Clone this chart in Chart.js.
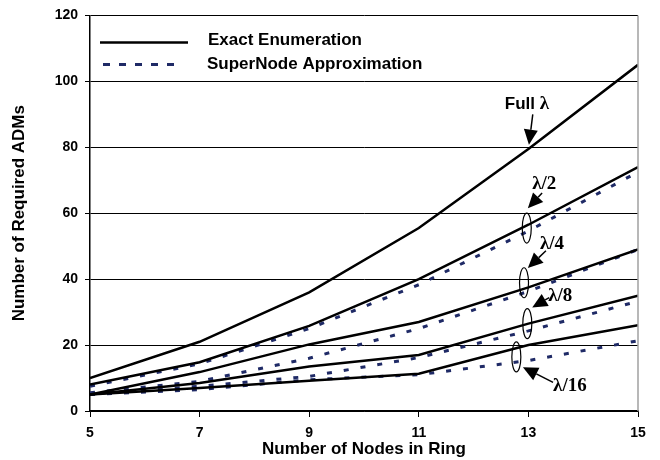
<!DOCTYPE html>
<html>
<head>
<meta charset="utf-8">
<script src="https://cdn.jsdelivr.net/npm/chart.js@4.4.0/dist/chart.umd.min.js"></script>
<style>
  html, body { margin: 0; padding: 0; background: #fff; }
  #wrap { width: 660px; height: 460px; }
</style>
</head>
<body>
<div id="wrap"><canvas id="chart" width="660" height="460"></canvas></div>
<script>
// Data
const nodes = [5, 7, 9, 11, 13, 15];

const exactFull      = [10, 21, 36, 55.5, 79.5, 105];
const exactHalf      = [8, 14.8, 25.8, 40, 56.5, 74];
const exactQuarter   = [5, 11.8, 20.2, 27, 37.5, 49];
const exactEighth    = [5, 8.5, 13.5, 17, 26.5, 35];
const exactSixteenth = [5, 7, 9.2, 11.3, 20, 26];

const approxHalf      = [7.5, 14.3, 25, 38.3, 54.6, 72.5];
const approxQuarter   = [5.5, 9, 16, 25, 36.3, 49];
const approxEighth    = [5, 7.5, 10.5, 16.2, 24.3, 33.3];
const approxSixteenth = [5, 6.5, 9.5, 11, 15.3, 21.3];

const legendLabels = ['Exact Enumeration', 'SuperNode Approximation'];
const yTicks = { min: 0, max: 120, step: 20 };
const xTicks = { min: 5, max: 15, step: 2 };

// annotation anchors in data units
const notes = [
  { label: 'λ/2',  text: [13.07, 68.8], from: [13.25, 66.1], tip: [12.99, 61.5], ring: [12.97, 55.5] },
  { label: 'λ/4',  text: [13.21, 50.7], from: [13.32, 48.6], tip: [12.99, 43.4], ring: [12.92, 38.9] },
  { label: 'λ/8',  text: [13.36, 35.0], from: [13.38, 34.4], tip: [13.07, 31.4], ring: [12.98, 26.5] },
  { label: 'λ/16', text: [13.45, 7.5],  from: [13.45, 8.7],  tip: [12.90, 13.3], ring: [12.78, 16.4] }
];
const fullNote = { text: [12.57, 93], from: [13.08, 90], tip: [13.01, 80.8] };

const SANS = '"Liberation Sans", Arial, sans-serif';
const SERIF = '"Liberation Serif", "Times New Roman", serif';
const DASH_COLOR = '#1f2a66';

function pts(arr) {
    return nodes.map((n, i) => ({ x: n, y: arr[i] }));
}

function solid(label, arr) {
    return { label: label, data: pts(arr), borderColor: '#000', borderWidth: 2.5, pointRadius: 0, tension: 0 };
}

function dashed(label, arr) {
    return { label: label, data: pts(arr), borderColor: DASH_COLOR, borderWidth: 3, borderDash: [5, 12], pointRadius: 0, tension: 0 };
}

// solid first so they end up on top
const datasets = [
    solid('Full', exactFull),
    solid('1/2', exactHalf),
    solid('1/4', exactQuarter),
    solid('1/8', exactEighth),
    solid('1/16', exactSixteenth),
    dashed('1/2 approx', approxHalf),
    dashed('1/4 approx', approxQuarter),
    dashed('1/8 approx', approxEighth),
    dashed('1/16 approx', approxSixteenth)
];

function arrow(ctx, x1, y1, x2, y2) {
    const ang = Math.atan2(y2 - y1, x2 - x1);
    const len = 15, half = 7;
    const bx = x2 - len * Math.cos(ang), by = y2 - len * Math.sin(ang);
    ctx.beginPath();
    ctx.moveTo(x1, y1);
    ctx.lineTo(bx, by);
    ctx.lineWidth = 1.5;
    ctx.stroke();
    ctx.beginPath();
    ctx.moveTo(x2, y2);
    ctx.lineTo(bx + half * Math.sin(ang), by - half * Math.cos(ang));
    ctx.lineTo(bx - half * Math.sin(ang), by + half * Math.cos(ang));
    ctx.closePath();
    ctx.fill();
}

const overlay = {
    id: 'overlay',
    afterDraw(chart) {
        const ctx = chart.ctx;
        const a = chart.chartArea;
        const xs = chart.scales.x, ys = chart.scales.y;
        const px = p => [xs.getPixelForValue(p[0]), ys.getPixelForValue(p[1])];
        ctx.save();

        // right frame
        ctx.strokeStyle = '#a0a0a0';
        ctx.lineWidth = 1.5;
        ctx.beginPath();
        ctx.moveTo(a.right, a.top);
        ctx.lineTo(a.right, a.bottom);
        ctx.stroke();

        // legend
        ctx.strokeStyle = '#000';
        ctx.lineWidth = 2.5;
        ctx.beginPath();
        ctx.moveTo(a.left + 10, a.top + 27);
        ctx.lineTo(a.left + 98, a.top + 27);
        ctx.stroke();
        ctx.strokeStyle = DASH_COLOR;
        ctx.lineWidth = 3;
        ctx.setLineDash([7, 9]);
        ctx.beginPath();
        ctx.moveTo(a.left + 13, a.top + 49);
        ctx.lineTo(a.left + 93, a.top + 49);
        ctx.stroke();
        ctx.setLineDash([]);

        ctx.fillStyle = '#000';
        ctx.textBaseline = 'middle';
        ctx.textAlign = 'left';
        ctx.font = 'bold 17px ' + SANS;
        ctx.fillText(legendLabels[0], a.left + 118, a.top + 25);
        ctx.fillText(legendLabels[1], a.left + 117, a.top + 49);

        // Full lambda note
        ctx.strokeStyle = '#000';
        let [tx, ty] = px(fullNote.text);
        ctx.font = 'bold 17px ' + SANS;
        ctx.fillText('Full ', tx, ty);
        const w = ctx.measureText('Full ').width;
        ctx.font = 'bold 19px ' + SERIF;
        ctx.fillText('λ', tx + w, ty);
        let [fx, fy] = px(fullNote.from);
        let [ex, ey] = px(fullNote.tip);
        arrow(ctx, fx, fy, ex, ey);

        // lambda fractions
        notes.forEach(n => {
            const [lx, ly] = px(n.text);
            ctx.font = 'bold 19px ' + SERIF;
            ctx.fillText(n.label, lx, ly);
            const [ax, ay] = px(n.from);
            const [bx, by] = px(n.tip);
            arrow(ctx, ax, ay, bx, by);
            const [rx, ry] = px(n.ring);
            ctx.beginPath();
            ctx.ellipse(rx, ry, 4.5, 15, 0, 0, Math.PI * 2);
            ctx.lineWidth = 1.2;
            ctx.stroke();
        });

        ctx.restore();
    }
};

new Chart(document.getElementById('chart'), {
    type: 'line',
    data: { datasets: datasets },
    options: {
        responsive: false,
        animation: false,
        devicePixelRatio: 1,
        layout: { padding: { top: 13, right: 22, left: 0, bottom: 0 } },
        plugins: { legend: { display: false }, tooltip: { enabled: false } },
        scales: {
            x: {
                type: 'linear',
                min: xTicks.min,
                max: xTicks.max,
                ticks: { stepSize: xTicks.step, color: '#000', font: { family: SANS, size: 14, weight: 'bold' }, padding: 8 },
                grid: { drawOnChartArea: false, color: '#000', tickLength: 6 },
                border: { color: '#000', width: 1.5 },
                title: { display: true, text: 'Number of Nodes in Ring', color: '#000', font: { family: SANS, size: 17, weight: 'bold' }, padding: { top: 0, bottom: 0 } },
                afterFit: s => { s.height = 49; }
            },
            y: {
                min: yTicks.min,
                max: yTicks.max,
                ticks: { stepSize: yTicks.step, color: '#000', font: { family: SANS, size: 14, weight: 'bold' }, padding: 7 },
                grid: { color: '#000', lineWidth: 1, tickLength: 5 },
                border: { color: '#000', width: 1.5 },
                title: { display: true, text: 'Number of Required ADMs', color: '#000', font: { family: SANS, size: 17, weight: 'bold' }, padding: { top: 9, bottom: 0 } },
                afterFit: s => { s.width = 90; }
            }
        }
    },
    plugins: [overlay]
});
</script>
</body>
</html>
